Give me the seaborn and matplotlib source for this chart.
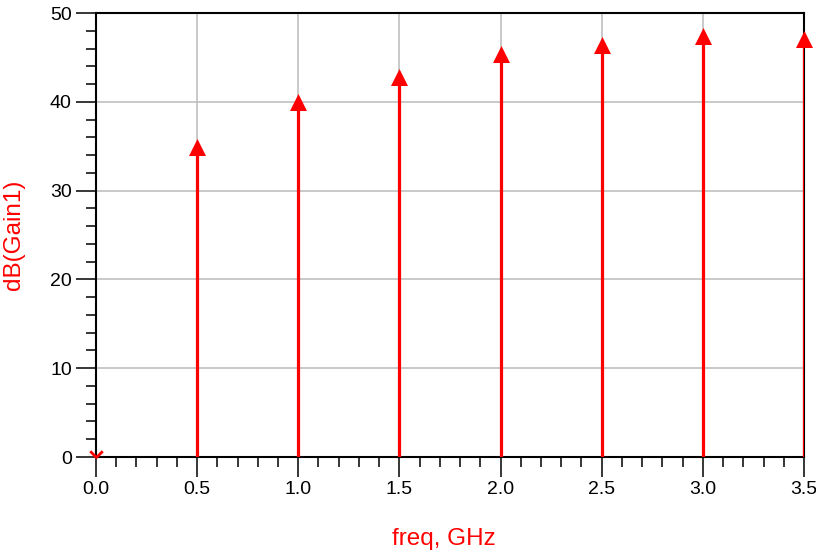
import numpy as np
import pandas as pd
import seaborn as sns
import matplotlib.pyplot as plt
from matplotlib.path import Path
from matplotlib.ticker import MultipleLocator

# gain values
freq = [0.0, 0.5, 1.0, 1.5, 2.0, 2.5, 3.0, 3.5]
gain_db = [0.0, 34.9, 40.0, 42.8, 45.4, 46.4, 47.4, 47.1]

df = pd.DataFrame({'freq': freq, 'gain': gain_db})

sns.set_style("white")
plt.rcParams['font.family'] = ['Liberation Sans', 'DejaVu Sans']
plt.rcParams['xtick.bottom'] = True
plt.rcParams['ytick.left'] = True

fig = plt.figure(figsize=(8.16, 5.52), dpi=100)
ax = fig.add_axes([0.1176, 0.1721, 0.8677, 0.8043])

# stems
ax.vlines(df['freq'], 0, df['gain'], color='red', linewidth=2.3, zorder=3)

# arrow heads for non-zero points, chevron for the zero point
nz = df[df['gain'] > 0]
sns.scatterplot(data=nz, x='freq', y='gain', marker='^', s=150, color='red',
                edgecolor='red', linewidth=0, ax=ax, zorder=4, clip_on=False)
zr = df[df['gain'] == 0]
chevron = Path([(-1, 1), (0, 0), (1, 1)], [Path.MOVETO, Path.LINETO, Path.LINETO])
ax.plot(zr['freq'], zr['gain'], linestyle='none', marker=chevron, markersize=9,
        markerfacecolor='none', markeredgecolor='red', markeredgewidth=2,
        clip_on=False, zorder=5)

ax.set_xlim(0, 3.5)
ax.set_ylim(0, 50)
ax.xaxis.set_major_locator(MultipleLocator(0.5))
ax.xaxis.set_minor_locator(MultipleLocator(0.1))
ax.yaxis.set_major_locator(MultipleLocator(10))
ax.yaxis.set_minor_locator(MultipleLocator(2))
ax.xaxis.set_major_formatter(plt.FormatStrFormatter('%.1f'))

ax.grid(True, which='major', color='#c0c0c0', linewidth=1.2, zorder=0)
ax.set_axisbelow(True)
ax.tick_params(axis='both', which='major', direction='out', length=14.4, width=1.1,
               color='black', labelsize=14, labelcolor='black', pad=3)
ax.tick_params(axis='both', which='minor', direction='out', length=7.2, width=1.1,
               color='black')
for side in ['left', 'bottom', 'top', 'right']:
    ax.spines[side].set_color('black')
    ax.spines[side].set_linewidth(1.5)

ax.set_xlabel('freq, GHz', color='red', fontsize=17.5)
ax.set_ylabel('dB(Gain1)', color='red', fontsize=17.5)
ax.xaxis.set_label_coords(0.491, -0.16)
ax.yaxis.set_label_coords(-0.100, 0.5)

plt.savefig('out.png', dpi=100)
